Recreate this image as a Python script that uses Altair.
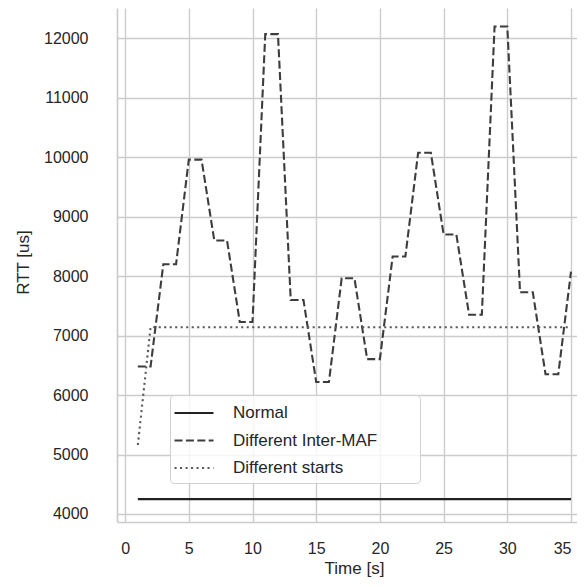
import altair as alt
import pandas as pd

# ---- data ----
time_s = list(range(1, 36))
normal = [4250] * 35
inter_maf = [6480, 6480, 8200, 8200, 9960, 9960, 8600, 8600, 7230, 7230,
             12070, 12070, 7600, 7600, 6220, 6220, 7965, 7965, 6605, 6605,
             8330, 8330, 10075, 10075, 8700, 8700, 7350, 7350, 12200, 12200,
             7730, 7730, 6350, 6350, 8075]
diff_starts = [5160] + [7140] * 34

series_names = ["Normal", "Different Inter-MAF", "Different starts"]
x_ticks = [0, 5, 10, 15, 20, 25, 30, 35]
y_ticks = [4000, 5000, 6000, 7000, 8000, 9000, 10000, 11000, 12000]

rows = []
for name, vals in zip(series_names, [normal, inter_maf, diff_starts]):
    for t, v in zip(time_s, vals):
        rows.append({"Time": t, "RTT": v, "series": name})
df = pd.DataFrame(rows)

FONT = "Liberation Sans"
TXT = "#262626"
GRID = "#cccccc"

legend_cfg = dict(title=None, orient="none", legendX=53, legendY=387)

chart = alt.Chart(df).mark_line(strokeWidth=2.1).encode(
    x=alt.X("Time:Q",
            scale=alt.Scale(domain=[-0.636, 35.47], nice=False, zero=False),
            axis=alt.Axis(values=x_ticks, format="d", title="Time [s]", labelPadding=18,
                          labelFlush=7,
                          titleX=237, titleY=46, titleBaseline="middle",
                          titleAnchor="start", titleAlign="center")),
    y=alt.Y("RTT:Q",
            scale=alt.Scale(domain=[3865, 12510], nice=False, zero=False),
            axis=alt.Axis(values=y_ticks, format="d", title="RTT [us]", labelPadding=29,
                          titleX=-94, titleY=254, titleBaseline="middle",
                          titleAnchor="start", titleAlign="center")),
    color=alt.Color("series:N",
                    scale=alt.Scale(domain=series_names,
                                    range=["#222222", "#3d3d3d", "#5a5a5a"]),
                    legend=alt.Legend(**legend_cfg)),
    strokeDash=alt.StrokeDash("series:N",
                              scale=alt.Scale(domain=series_names,
                                              range=[[1, 0], [8, 3.4], [2.1, 3.4]]),
                              legend=alt.Legend(**legend_cfg)),
    detail="series:N",
).properties(
    width=460,
    height=514,
    autosize=alt.AutoSizeParams(type="none"),
    padding={"left": 109, "top": 0, "right": 0, "bottom": 57},
).configure_view(
    stroke=None
).configure_axis(
    grid=True, gridColor=GRID, gridWidth=1.4,
    domain=True, domainColor=GRID, domainWidth=1.7,
    ticks=False,
    labelFont=FONT, labelFontSize=16, labelColor=TXT,
    titleFont=FONT, titleFontSize=17, titleColor=TXT, titleFontWeight="normal",
).configure_legend(
    symbolType="M-2,0L2,0M22,0", symbolSize=380, symbolStrokeWidth=2.1,
    symbolOffset=6,
    labelFont=FONT, labelFontSize=17, labelColor=TXT, labelOffset=28,
    labelLimit=400, rowPadding=8.5, padding=7,
    fillColor="rgba(255,255,255,0.8)", strokeColor="#d0d0d0", cornerRadius=4,
)

chart.save("out.html", embed_options={"renderer": "svg", "actions": False})
